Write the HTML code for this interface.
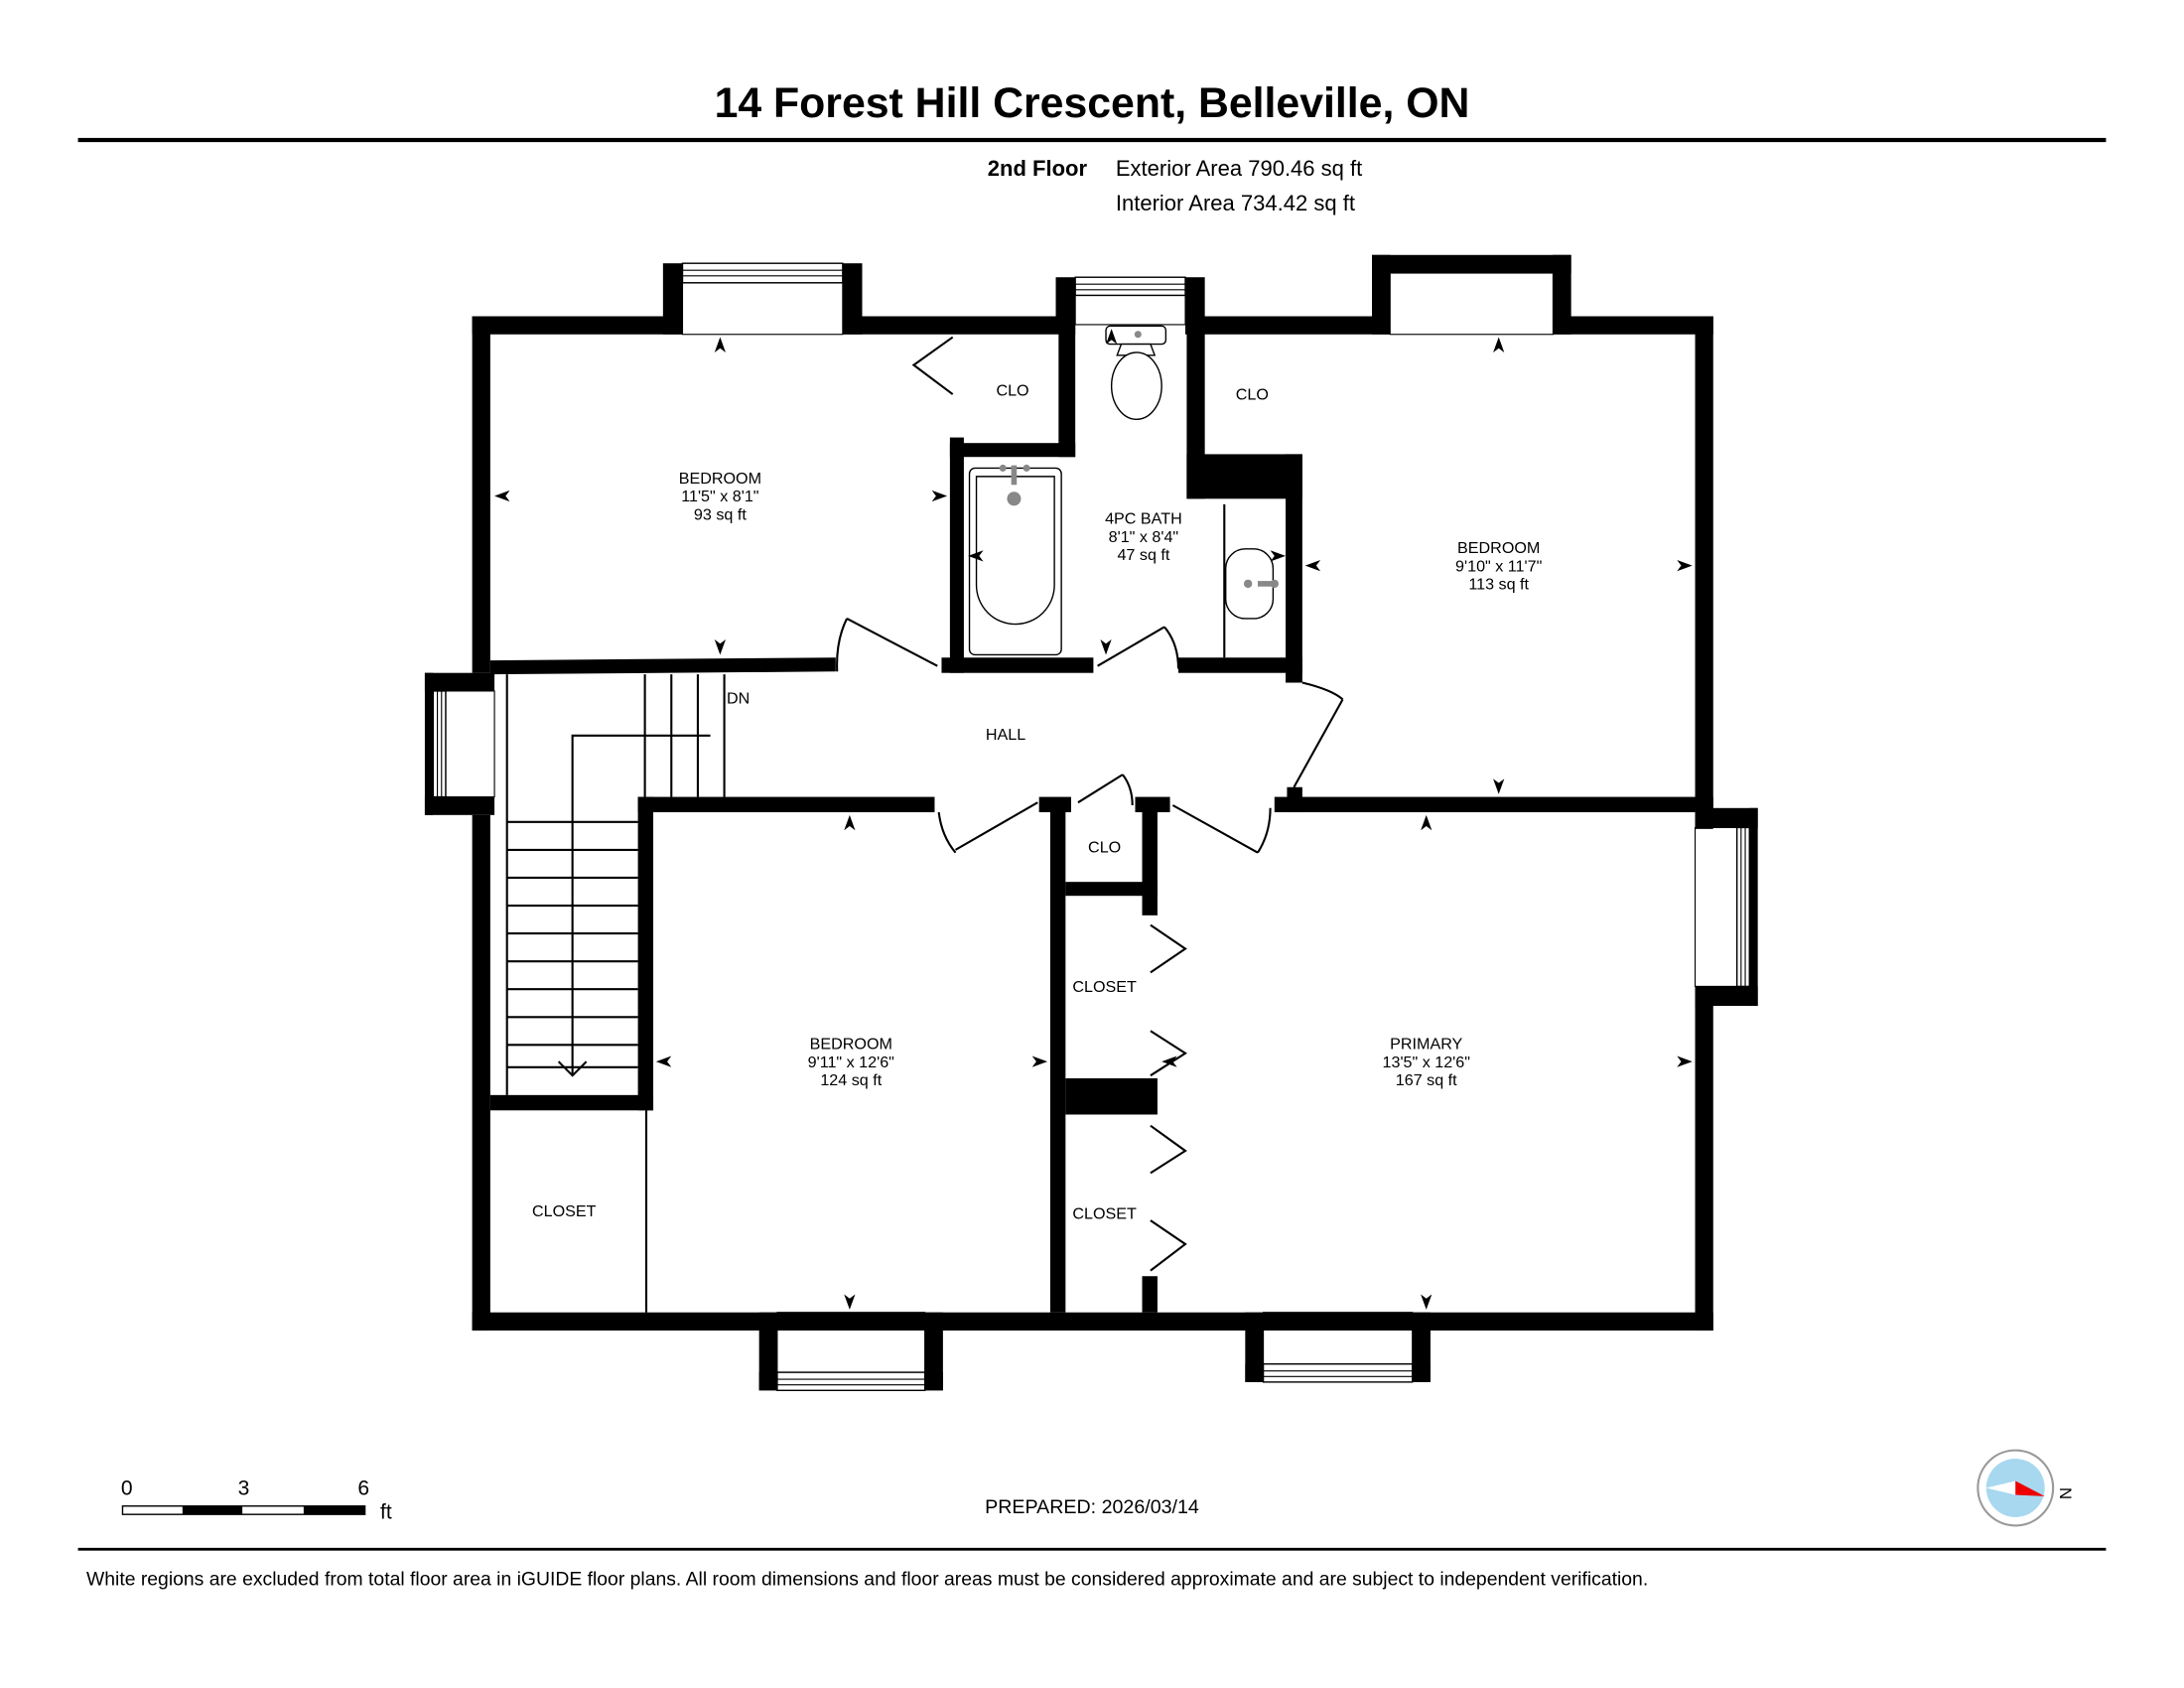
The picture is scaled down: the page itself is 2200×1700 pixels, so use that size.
<!DOCTYPE html>
<html><head><meta charset="utf-8"><style>
html,body{margin:0;padding:0;background:#fff;}
svg{display:block;}
text{font-family:"Liberation Sans",Arial,sans-serif;fill:#000;}
</style></head><body>
<svg width="2200" height="1700" viewBox="0 0 1568 1211.6" preserveAspectRatio="none" xmlns="http://www.w3.org/2000/svg">
<rect width="1568" height="1212" fill="#fff"/>
<text x="784" y="84" font-size="30.5" font-weight="bold" text-anchor="middle">14 Forest Hill Crescent, Belleville, ON</text>
<rect x="56" y="99" width="1456" height="3" fill="#000"/>
<text x="709" y="126" font-size="15.7" font-weight="bold">2nd Floor</text>
<text x="801" y="126" font-size="15.7">Exterior Area 790.46 sq ft</text>
<text x="801" y="151" font-size="15.7">Interior Area 734.42 sq ft</text>

<g fill="#000">
<rect x="339" y="227" width="13" height="256"/>
<rect x="339" y="585" width="13" height="370"/>
<rect x="305" y="483" width="50" height="13"/>
<rect x="305" y="572" width="50" height="13"/>
<rect x="305" y="483" width="6" height="102"/>
<rect x="339" y="227" width="151" height="13"/>
<rect x="476" y="189" width="14" height="51"/>
<rect x="605" y="189" width="14" height="51"/>
<rect x="605" y="227" width="167" height="13"/>
<rect x="758" y="199" width="14" height="34"/>
<rect x="851" y="199" width="14" height="34"/>
<rect x="851" y="227" width="147" height="13"/>
<rect x="985" y="183" width="143" height="13"/>
<rect x="985" y="183" width="13" height="57"/>
<rect x="1115" y="183" width="13" height="57"/>
<rect x="1115" y="227" width="115" height="13"/>
<rect x="1217" y="227" width="13" height="368"/>
<rect x="1217" y="708" width="13" height="247"/>
<rect x="1217" y="580" width="45" height="14"/>
<rect x="1217" y="708" width="45" height="14"/>
<rect x="1256" y="580" width="6" height="142"/>
<rect x="339" y="942" width="891" height="13"/>
<rect x="545" y="942" width="13" height="56"/>
<rect x="664" y="942" width="13" height="56"/>
<rect x="545" y="985" width="132" height="13"/>
<rect x="894" y="942" width="13" height="50"/>
<rect x="1014" y="942" width="13" height="50"/>
<rect x="894" y="979" width="133" height="13"/>
<polygon points="352,474 600,472 600,482 352,484"/>
<rect x="682" y="314" width="10" height="169"/>
<rect x="682" y="318" width="90" height="10"/>
<rect x="760" y="227" width="12" height="101"/>
<rect x="676" y="472" width="109" height="11"/>
<rect x="846" y="472" width="89" height="11"/>
<rect x="852" y="233" width="13" height="125"/>
<rect x="852" y="326" width="83" height="32"/>
<rect x="923" y="326" width="12" height="164"/>
<rect x="458" y="572" width="213" height="11"/>
<rect x="746" y="572" width="23" height="11"/>
<rect x="815" y="572" width="25" height="11"/>
<rect x="915" y="572" width="315" height="11"/>
<rect x="924" y="565" width="11" height="18"/>
<rect x="458" y="572" width="11" height="225"/>
<rect x="352" y="786" width="117" height="11"/>
<rect x="754" y="583" width="11" height="359"/>
<rect x="820" y="583" width="11" height="74"/>
<rect x="765" y="633" width="66" height="10"/>
<rect x="765" y="774" width="66" height="26"/>
<rect x="820" y="916" width="11" height="26"/>
</g>

<g fill="#fff" stroke="#000" stroke-width="1">
<rect x="490" y="189" width="115" height="14"/>
<rect x="772" y="199" width="79" height="13"/>
<rect x="558" y="985" width="106" height="13"/>
<rect x="907" y="979" width="107" height="13"/>
<rect x="311" y="496" width="9" height="76"/>
<rect x="1247" y="594" width="9" height="114"/>
</g>
<g stroke="#000" stroke-width="0.8" fill="none">
<line x1="490" y1="194" x2="605" y2="194"/><line x1="490" y1="198" x2="605" y2="198"/>
<line x1="772" y1="204" x2="851" y2="204"/><line x1="772" y1="208" x2="851" y2="208"/>
<line x1="558" y1="990" x2="664" y2="990"/><line x1="558" y1="994" x2="664" y2="994"/>
<line x1="907" y1="984" x2="1014" y2="984"/><line x1="907" y1="988" x2="1014" y2="988"/>
<line x1="314" y1="496" x2="314" y2="572"/><line x1="317" y1="496" x2="317" y2="572"/>
<line x1="1250" y1="594" x2="1250" y2="708"/><line x1="1253" y1="594" x2="1253" y2="708"/>
<rect x="490" y="203" width="115" height="37"/>
<rect x="998" y="196" width="117" height="44"/>
<rect x="772" y="212" width="79" height="21"/>
<rect x="558" y="942" width="106" height="43"/>
<rect x="907" y="942" width="107" height="37"/>
<rect x="320" y="496" width="35" height="76"/>
<rect x="1217" y="594" width="30" height="114"/>
</g>

<g stroke="#000" stroke-width="1.5" fill="none">
<line x1="364" y1="484" x2="364" y2="786"/>
<line x1="463" y1="484" x2="463" y2="572"/>
<line x1="482" y1="484" x2="482" y2="572"/>
<line x1="501" y1="484" x2="501" y2="572"/>
<line x1="520" y1="484" x2="520" y2="572"/>
<line x1="364" y1="590" x2="458" y2="590"/>
<line x1="364" y1="610" x2="458" y2="610"/>
<line x1="364" y1="630" x2="458" y2="630"/>
<line x1="364" y1="650" x2="458" y2="650"/>
<line x1="364" y1="670" x2="458" y2="670"/>
<line x1="364" y1="690" x2="458" y2="690"/>
<line x1="364" y1="710" x2="458" y2="710"/>
<line x1="364" y1="730" x2="458" y2="730"/>
<line x1="364" y1="750" x2="458" y2="750"/>
<line x1="364" y1="766" x2="458" y2="766"/>
<polyline points="510,528 411,528 411,772"/>
<polyline points="401,762 411,772 421,762"/>
<line x1="464" y1="797" x2="464" y2="942"/>
</g>

<g stroke="#000" stroke-width="1.5" fill="none">
<polyline points="684,242 656,262 684,283"/>
<line x1="608" y1="444" x2="673" y2="478"/>
<path d="M608,444 Q600,460 601,482"/>
<line x1="788" y1="478" x2="836" y2="450"/>
<path d="M836,450 Q846,462 846,480"/>
<line x1="964" y1="502" x2="929" y2="565"/>
<path d="M935,490 Q956,495 964,502"/>
<line x1="686" y1="610" x2="745" y2="576"/>
<path d="M674,583 Q676,600 686,612"/>
<line x1="774" y1="576" x2="806" y2="556"/>
<path d="M806,556 Q813,565 813,578"/>
<line x1="842" y1="578" x2="903" y2="612"/>
<path d="M903,612 Q912,598 912,580"/>
<polyline points="826,664 851,681 826,698"/>
<polyline points="826,740 851,756 826,772"/>
<polyline points="826,808 851,826 826,842"/>
<polyline points="826,876 851,893 826,912"/>
<line x1="879" y1="362" x2="879" y2="472"/>
</g>

<g stroke="#000" stroke-width="1" fill="#fff">
<rect x="696" y="336" width="66" height="134" rx="4"/>
<path d="M701,342 h56 v78 a28,28 0 0 1 -56,0 z"/>
<rect x="794" y="234" width="43" height="13" rx="3"/>
<path d="M805,247 h21 l3,8 h-27z"/>
<ellipse cx="816" cy="277" rx="18" ry="24"/>
<rect x="880" y="394" width="34" height="50" rx="14"/>
</g>
<g fill="#888">
<circle cx="728" cy="358" r="5"/>
<rect x="726" y="334" width="4" height="14"/>
<circle cx="720" cy="336" r="2.5"/><circle cx="737" cy="336" r="2.5"/>
<circle cx="817" cy="240" r="2.5"/>
<circle cx="896" cy="419" r="3"/>
<rect x="903" y="417" width="12" height="4"/><circle cx="915" cy="419" r="3"/>
</g>

<g fill="#000">
<path d="M517,242 l-4,11 4,-3 4,3z"/>
<path d="M517,470 l-4,-11 4,3 4,-3z"/>
<path d="M355,356 l11,-4 -3,4 3,4z"/>
<path d="M680,356 l-11,-4 3,4 -3,4z"/>
<path d="M695,399 l11,-4 -3,4 3,4z"/>
<path d="M923,399 l-11,-4 3,4 -3,4z"/>
<path d="M937,406 l11,-4 -3,4 3,4z"/>
<path d="M1215,406 l-11,-4 3,4 -3,4z"/>
<path d="M794,470 l-4,-11 4,3 4,-3z"/>
<path d="M798,236 l-4,11 4,-3 4,3z"/>
<path d="M1076,242 l-4,11 4,-3 4,3z"/>
<path d="M1076,570 l-4,-11 4,3 4,-3z"/>
<path d="M610,585 l-4,11 4,-3 4,3z"/>
<path d="M610,940 l-4,-11 4,3 4,-3z"/>
<path d="M471,762 l11,-4 -3,4 3,4z"/>
<path d="M752,762 l-11,-4 3,4 -3,4z"/>
<path d="M1024,585 l-4,11 4,-3 4,3z"/>
<path d="M1024,940 l-4,-11 4,3 4,-3z"/>
<path d="M834,762 l11,-4 -3,4 3,4z"/>
<path d="M1215,762 l-11,-4 3,4 -3,4z"/>
</g>

<g font-size="11.5" text-anchor="middle">
<text x="517" y="347">BEDROOM</text><text x="517" y="360">11'5" x 8'1"</text><text x="517" y="373">93 sq ft</text>
<text x="821" y="376">4PC BATH</text><text x="821" y="389">8'1" x 8'4"</text><text x="821" y="402">47 sq ft</text>
<text x="1076" y="397">BEDROOM</text><text x="1076" y="410">9'10" x 11'7"</text><text x="1076" y="423">113 sq ft</text>
<text x="611" y="753">BEDROOM</text><text x="611" y="766">9'11" x 12'6"</text><text x="611" y="779">124 sq ft</text>
<text x="1024" y="753">PRIMARY</text><text x="1024" y="766">13'5" x 12'6"</text><text x="1024" y="779">167 sq ft</text>
<text x="727" y="284">CLO</text>
<text x="899" y="287">CLO</text>
<text x="722" y="531">HALL</text>
<text x="793" y="612">CLO</text>
<text x="793" y="712">CLOSET</text>
<text x="793" y="875">CLOSET</text>
<text x="405" y="873">CLOSET</text>
<text x="530" y="505">DN</text>
</g>

<g>
<text x="91" y="1073" font-size="15" text-anchor="middle">0</text>
<text x="175" y="1073" font-size="15" text-anchor="middle">3</text>
<text x="261" y="1073" font-size="15" text-anchor="middle">6</text>
<text x="273" y="1090" font-size="15">ft</text>
<rect x="88" y="1081" width="174" height="6" fill="#fff" stroke="#000" stroke-width="1"/>
<rect x="131" y="1081" width="43" height="6" fill="#000"/>
<rect x="218" y="1081" width="44" height="6" fill="#000"/>
</g>
<text x="784" y="1086" font-size="14" text-anchor="middle">PREPARED: 2026/03/14</text>
<g>
<circle cx="1447" cy="1068" r="27" fill="#fff" stroke="#999" stroke-width="1.5"/>
<circle cx="1447" cy="1068" r="21" fill="#a8d8f0"/>
<polygon points="1426,1068 1447,1063 1447,1073" fill="#fff"/>
<polygon points="1468,1074 1447,1063 1447,1073" fill="#e00"/>
<text x="1483" y="1076" font-size="12" transform="rotate(90 1483 1072)" text-anchor="middle">N</text>
</g>
<rect x="56" y="1111" width="1456" height="2" fill="#000"/>
<text x="62" y="1138" font-size="13.8">White regions are excluded from total floor area in iGUIDE floor plans. All room dimensions and floor areas must be considered approximate and are subject to independent verification.</text>
</svg>
</body></html>
